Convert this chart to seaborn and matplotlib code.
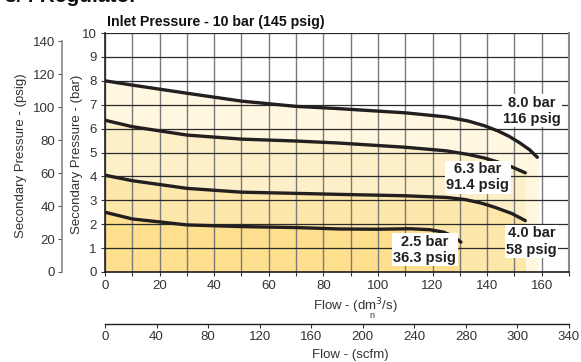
import numpy as np
import pandas as pd
import matplotlib
matplotlib.use("Agg")
import matplotlib.pyplot as plt
import seaborn as sns
from matplotlib.ticker import MultipleLocator

# curves: flow (dm3/s) vs secondary pressure (bar)
flow_80 = [0, 10, 30, 50, 70, 85, 110, 125, 133, 139, 144, 148, 152, 155.5, 158.4]
bar_80 = [8.0, 7.82, 7.48, 7.15, 6.93, 6.84, 6.66, 6.49, 6.32, 6.12, 5.9, 5.68, 5.4, 5.12, 4.8]
flow_63 = [0, 10, 30, 50, 70, 85, 110, 125, 133, 139, 144, 149, 154]
bar_63 = [6.35, 6.08, 5.73, 5.56, 5.48, 5.40, 5.22, 5.07, 4.92, 4.77, 4.6, 4.4, 4.15]
flow_40 = [0, 10, 30, 50, 70, 85, 110, 125, 132, 138, 143, 149, 154]
bar_40 = [4.05, 3.82, 3.5, 3.34, 3.29, 3.25, 3.19, 3.12, 3.03, 2.88, 2.7, 2.45, 2.15]
flow_25 = [0, 10, 30, 50, 70, 86, 100, 112, 119, 124, 127.5, 130.4]
bar_25 = [2.5, 2.22, 1.97, 1.9, 1.86, 1.8, 1.79, 1.81, 1.77, 1.67, 1.5, 1.25]

settings = ['8.0 bar', '6.3 bar', '4.0 bar', '2.5 bar']
fill_end = [158.7, 154, 154, 130.4]
fill_colors = ['#fff7e0', '#fdefc8', '#fee7aa', '#fedf8d']
labels = ['8.0 bar\n116 psig', '6.3 bar\n91.4 psig', '4.0 bar\n58 psig', '2.5 bar\n36.3 psig']
label_x = [156.5, 136.6, 156.2, 117.2]
label_y = [6.75, 3.97, 1.28, 0.93]

psig_ticks = [0, 20, 40, 60, 80, 100, 120, 140]
scfm_ticks = [0, 40, 80, 120, 160, 200, 240, 280, 320, 360]
scfm_labels = ['0', '40', '80', '120', '160', '200', '240', '280', '300', '340']

curves = [(flow_80, bar_80), (flow_63, bar_63), (flow_40, bar_40), (flow_25, bar_25)]
df = pd.concat([pd.DataFrame({'flow': f, 'bar': b, 'setting': s})
                for (f, b), s in zip(curves, settings)])

sns.set_style('ticks')
plt.rcParams['font.family'] = ['Liberation Sans', 'DejaVu Sans']
plt.rcParams['text.color'] = '#333333'
plt.rcParams['axes.labelcolor'] = '#333333'
plt.rcParams['xtick.color'] = '#333333'
plt.rcParams['ytick.color'] = '#333333'

fig = plt.figure(figsize=(5.81, 3.62), dpi=100)
ax = fig.add_axes([105 / 581, 90 / 362, 464 / 581, 239 / 362])

# shaded areas under each curve
for (f, b), end, col in zip(curves, fill_end, fill_colors):
    xs = list(f) + [end]
    ys = list(b) + [b[-1]]
    ax.fill_between(xs, ys, 0, color=col, lw=0, zorder=1)

sns.lineplot(data=df, x='flow', y='bar', hue='setting', palette=['#231f20'] * 4,
             sort=False, estimator=None, legend=False, lw=2.4, ax=ax, zorder=3)

for txt, x, y in zip(labels, label_x, label_y):
    ax.text(x, y, txt, ha='center', va='center', fontsize=10.5, fontweight='bold',
            color='#231f20', linespacing=1.2, zorder=5,
            bbox=dict(fc='white', ec='none', pad=1.0))

ax.set_xlim(0, 170)
ax.set_ylim(0, 10)
ax.xaxis.set_major_locator(MultipleLocator(20))
ax.xaxis.set_minor_locator(MultipleLocator(10))
ax.yaxis.set_major_locator(MultipleLocator(1))
ax.set_axisbelow('line')
ax.grid(True, axis='x', which='both', color='#7a7a7a', lw=1.0)
ax.grid(True, axis='y', which='major', color='#2a2a2a', lw=0.9)
ax.tick_params(axis='both', which='both', direction='out', length=3, width=0.8,
               labelsize=9.5, pad=3)
for s in ['left', 'bottom']:
    ax.spines[s].set_color('#231f20')
    ax.spines[s].set_linewidth(1.2)
ax.spines['right'].set_color('#8a8a8a')
ax.spines['right'].set_linewidth(1.5)
ax.spines['top'].set_visible(False)
ax.set_xlabel('Flow - (dm$^3$/s)', fontsize=9.5)
ax.xaxis.set_label_coords(0.539, -0.1)
ax.text(0.576, -0.182, 'n', transform=ax.transAxes, ha='center', va='center',
        fontsize=6.5, color='#333333')
ax.set_ylabel('Secondary Pressure - (bar)', fontsize=9.5)
ax.yaxis.set_label_coords(-0.047, 0.494)
ax.set_title('Inlet Pressure - 10 bar (145 psig)', loc='left', fontsize=10.2,
             fontweight='bold', color='#111111', pad=5, x=0.004)

# psig axis on the left
axp = ax.twinx()
axp.set_ylim(0, 10 * 14.5038)
axp.set_yticks(psig_ticks)
axp.yaxis.set_ticks_position('left')
axp.yaxis.set_label_position('left')
axp.spines['left'].set_position(('outward', 31))
axp.spines['left'].set_bounds(0, 140)
axp.spines['left'].set_color('#8a8a8a')
axp.spines['left'].set_linewidth(1.2)
for s in ['right', 'top', 'bottom']:
    axp.spines[s].set_visible(False)
axp.tick_params(axis='y', direction='out', length=3, width=0.8, labelsize=9.5, pad=2,
                color='#555555')
axp.set_ylabel('Secondary Pressure - (psig)', fontsize=9.5)
axp.yaxis.set_label_coords(-0.168, 0.485)

# scfm axis underneath
axs = ax.twiny()
axs.set_xlim(0, 360)
axs.set_xticks(scfm_ticks)
axs.set_xticklabels(scfm_labels)
axs.xaxis.set_ticks_position('bottom')
axs.xaxis.set_label_position('bottom')
axs.spines['bottom'].set_position(('outward', 37.4))
axs.spines['bottom'].set_color('#231f20')
axs.spines['bottom'].set_linewidth(1.0)
for s in ['right', 'top', 'left']:
    axs.spines[s].set_visible(False)
axs.tick_params(axis='x', direction='out', length=3, width=0.8, labelsize=9.5, pad=2)
axs.set_xlabel('Flow - (scfm)', fontsize=9.5)
axs.xaxis.set_label_coords(0.528, -0.322)

fig.text(0.008, 0.995, '3/4 Regulator', fontsize=15, fontweight='bold',
         color='#111111', va='baseline', ha='left')

fig.savefig('out.png', dpi=100)
